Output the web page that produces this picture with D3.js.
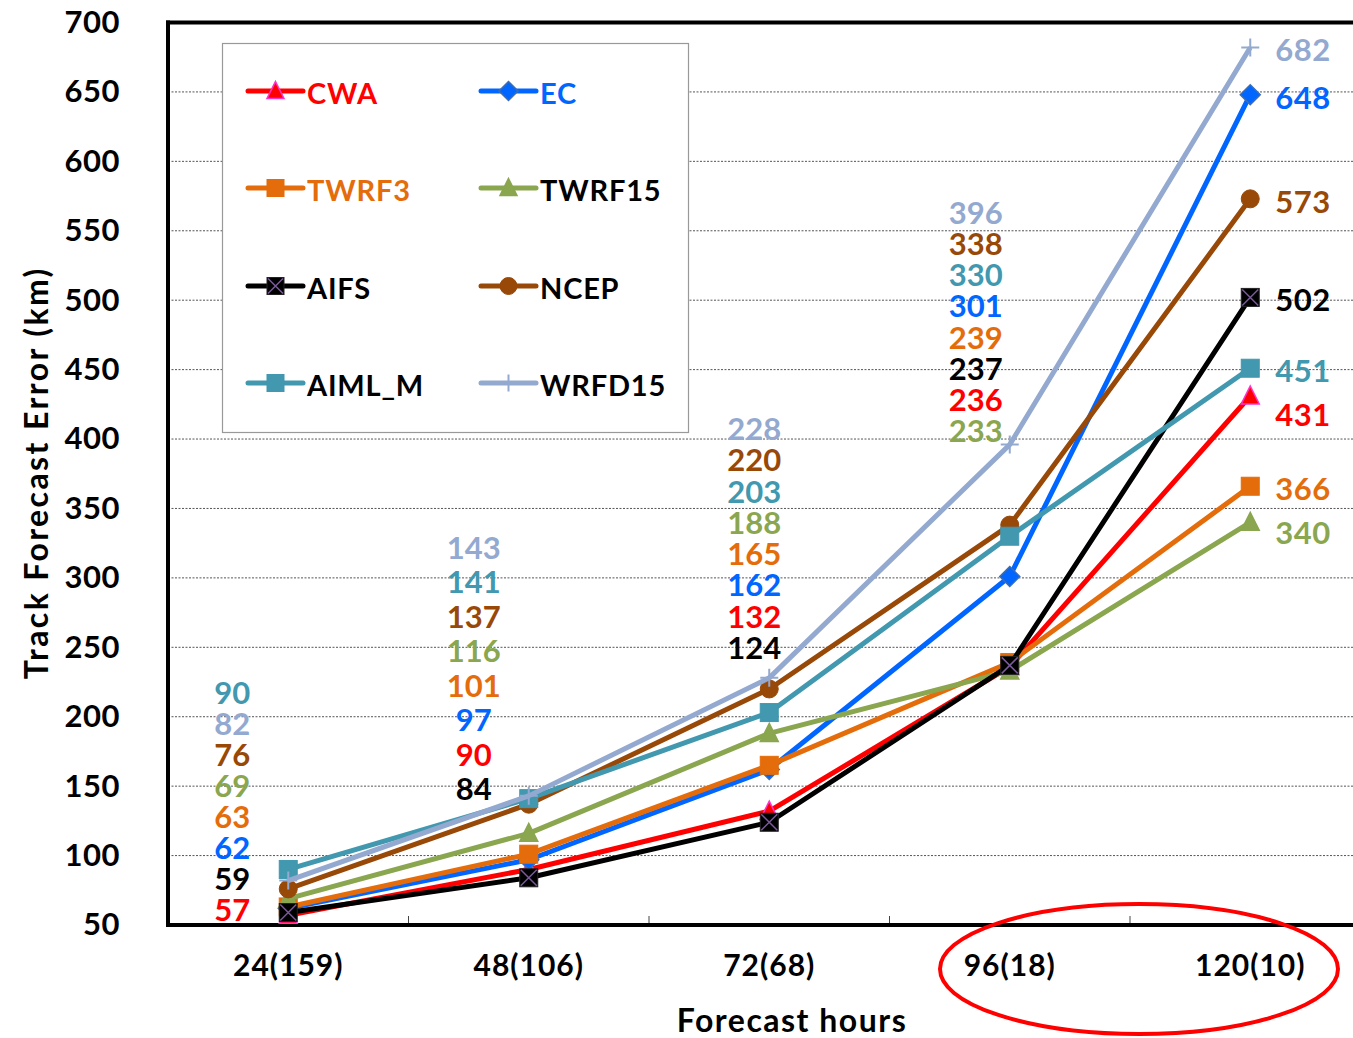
<!DOCTYPE html>
<html>
<head>
<meta charset="utf-8">
<script src="https://cdn.jsdelivr.net/npm/d3@7/dist/d3.min.js"></script>
<style>
  html, body { margin: 0; padding: 0; background: #fff; }
  svg { display: block; }
  text { font-family: Lato, "Open Sans", sans-serif; font-weight: bold; }
</style>
</head>
<body>
<svg id="chart" width="1353" height="1038"></svg>
<script>
// ---- data ----
const categories = ["24(159)", "48(106)", "72(68)", "96(18)", "120(10)"];
const seriesNames = ["CWA", "EC", "TWRF3", "TWRF15", "AIFS", "NCEP", "AIML_M", "WRFD15"];
const CWA    = [57, 90, 132, 236, 431];
const EC     = [62, 97, 162, 301, 648];
const TWRF3  = [63, 101, 165, 239, 366];
const TWRF15 = [69, 116, 188, 233, 340];
const AIFS   = [59, 84, 124, 237, 502];
const NCEP   = [76, 137, 220, 338, 573];
const AIML_M = [90, 141, 203, 330, 451];
const WRFD15 = [82, 143, 228, 396, 682];
const yTicks = [50, 100, 150, 200, 250, 300, 350, 400, 450, 500, 550, 600, 650, 700];

const seriesValues = [CWA, EC, TWRF3, TWRF15, AIFS, NCEP, AIML_M, WRFD15];
const styles = {
  CWA:    {color: "#FF0000", label: "#FF0000", legendText: "#FF0000", marker: "triangle", fill: "#FF0000", stroke: "#FF33CC"},
  EC:     {color: "#0066FF", label: "#0066FF", legendText: "#0066FF", marker: "diamond", fill: "#0066FF", stroke: "#3D6DB0"},
  TWRF3:  {color: "#E46C0A", label: "#E46C0A", legendText: "#E46C0A", marker: "square", fill: "#E46C0A", stroke: "#E46C0A"},
  TWRF15: {color: "#8AA64F", label: "#8AA64F", legendText: "#000000", marker: "triangle", fill: "#8AA64F", stroke: "#8AA64F"},
  AIFS:   {color: "#000000", label: "#000000", legendText: "#000000", marker: "xsquare", fill: "#000000", stroke: "#7A5A9A"},
  NCEP:   {color: "#984807", label: "#984807", legendText: "#000000", marker: "circle", fill: "#984807", stroke: "#984807"},
  AIML_M: {color: "#4198AF", label: "#4198AF", legendText: "#000000", marker: "square", fill: "#4198AF", stroke: "#4198AF"},
  WRFD15: {color: "#93A9D0", label: "#93A9D0", legendText: "#000000", marker: "plus", fill: "none", stroke: "#93A9D0"}
};

// ---- layout ----
const W = 1353, H = 1038;
const plot = {left: 168, top: 22.5, bottom: 925, right: 1370.5};
const svg = d3.select("#chart");

const x = d3.scaleBand().domain(categories).range([plot.left, plot.right]).paddingInner(0).paddingOuter(0);
const y = d3.scaleLinear().domain([50, 700]).range([plot.bottom, plot.top]);
const cx = c => x(c) + x.bandwidth() / 2;

// gridlines
svg.append("g").selectAll("line")
  .data(yTicks.filter(v => v > 50 && v < 700))
  .join("line")
  .attr("x1", plot.left).attr("x2", W)
  .attr("y1", d => y(d)).attr("y2", d => y(d))
  .attr("stroke", "#555").attr("stroke-width", 1).attr("stroke-dasharray", "2,1.5");

// y axis labels
const yAxis = d3.axisLeft(y).tickValues(yTicks).tickSize(0).tickPadding(48).tickFormat(d3.format("d"));
const gy = svg.append("g").attr("transform", `translate(${plot.left},0)`).call(yAxis);
gy.select(".domain").remove();
gy.selectAll("text").style("font-size", "31px").attr("fill", "#000")
  .style("font-family", "Lato, sans-serif").style("font-weight", "bold").style("letter-spacing", "0.5px");

// x axis labels
const xAxis = d3.axisBottom(x).tickSize(0).tickPadding(30);
const gx = svg.append("g").attr("transform", `translate(0,${plot.bottom})`).call(xAxis);
gx.select(".domain").remove();
gx.selectAll("text").style("font-size", "30px").attr("fill", "#000")
  .style("font-family", "Lato, sans-serif").style("font-weight", "bold").style("letter-spacing", "1px");

// x inner ticks at band boundaries
svg.append("g").selectAll("line")
  .data(categories.slice(1))
  .join("line")
  .attr("x1", d => x(d)).attr("x2", d => x(d))
  .attr("y1", plot.bottom).attr("y2", plot.bottom - 9)
  .attr("stroke", "#444").attr("stroke-width", 1);

// frame
svg.append("line").attr("x1", plot.left).attr("x2", plot.left).attr("y1", plot.top - 2).attr("y2", plot.bottom + 2)
  .attr("stroke", "#000").attr("stroke-width", 4);
svg.append("line").attr("x1", plot.left - 2).attr("x2", W).attr("y1", plot.top).attr("y2", plot.top)
  .attr("stroke", "#000").attr("stroke-width", 4);
svg.append("line").attr("x1", plot.left - 2).attr("x2", W).attr("y1", plot.bottom).attr("y2", plot.bottom)
  .attr("stroke", "#000").attr("stroke-width", 4);

// axis titles
svg.append("text").attr("transform", `translate(35,${(plot.top + plot.bottom) / 2 - 1}) rotate(-90)`)
  .attr("text-anchor", "middle").attr("dominant-baseline", "central")
  .style("font-size", "32px").style("letter-spacing", "2.4px").text("Track Forecast Error (km)");
svg.append("text").attr("x", 792).attr("y", 1019)
  .attr("text-anchor", "middle").attr("dominant-baseline", "central")
  .style("font-size", "32px").style("letter-spacing", "1.5px").text("Forecast hours");

// marker drawing
function drawMarker(g, type, st, px, py, s) {
  const h = s / 2;
  if (type === "square") {
    g.append("rect").attr("x", px - h).attr("y", py - h).attr("width", s).attr("height", s)
      .attr("fill", st.fill).attr("stroke", st.stroke).attr("stroke-width", 1);
  } else if (type === "xsquare") {
    g.append("rect").attr("x", px - h).attr("y", py - h).attr("width", s).attr("height", s)
      .attr("fill", st.fill).attr("stroke", "#222").attr("stroke-width", 1);
    g.append("path").attr("d", `M${px - h + 1},${py - h + 1}L${px + h - 1},${py + h - 1}M${px + h - 1},${py - h + 1}L${px - h + 1},${py + h - 1}`)
      .attr("stroke", st.stroke).attr("stroke-width", 1.5);
  } else if (type === "triangle") {
    g.append("path").attr("d", `M${px},${py - h - 1}L${px + h},${py + h - 1}L${px - h},${py + h - 1}Z`)
      .attr("fill", st.fill).attr("stroke", st.stroke).attr("stroke-width", 1.5);
  } else if (type === "diamond") {
    g.append("path").attr("d", `M${px},${py - h - 1}L${px + h + 1},${py}L${px},${py + h + 1}L${px - h - 1},${py}Z`)
      .attr("fill", st.fill).attr("stroke", st.stroke).attr("stroke-width", 1.5);
  } else if (type === "circle") {
    g.append("circle").attr("cx", px).attr("cy", py).attr("r", h)
      .attr("fill", st.fill).attr("stroke", st.stroke);
  } else if (type === "plus") {
    g.append("path").attr("d", `M${px - h},${py}L${px + h},${py}M${px},${py - h}L${px},${py + h}`)
      .attr("stroke", st.stroke).attr("stroke-width", 2);
  }
}

// legend
const legend = svg.append("g");
legend.append("rect").attr("x", 222.5).attr("y", 43.5).attr("width", 466).attr("height", 389)
  .attr("fill", "#fff").attr("stroke", "#999").attr("stroke-width", 1.2);
const legendCols = [248, 481];
const legendRows = [91, 188, 286, 383];
seriesNames.forEach((name, i) => {
  const st = styles[name];
  const lx = legendCols[i % 2], ly = legendRows[Math.floor(i / 2)];
  const g = legend.append("g");
  g.append("line").attr("x1", lx).attr("x2", lx + 55).attr("y1", ly).attr("y2", ly)
    .attr("stroke", st.color).attr("stroke-width", 5).attr("stroke-linecap", "round");
  drawMarker(g, st.marker, st, lx + 27.5, ly, 17);
  g.append("text").attr("x", lx + 59).attr("y", ly + 1).attr("dominant-baseline", "central")
    .attr("fill", st.legendText).style("font-size", "29px").style("letter-spacing", "0.8px").text(name);
});

// series lines + markers
const line = d3.line().x((d, i) => cx(categories[i])).y(d => y(d));
seriesNames.forEach((name, si) => {
  const st = styles[name];
  const vals = seriesValues[si];
  const g = svg.append("g");
  g.append("path").datum(vals).attr("d", line).attr("fill", "none")
    .attr("stroke", st.color).attr("stroke-width", 5).attr("stroke-linejoin", "round");
  vals.forEach((v, i) => drawMarker(g, st.marker, st, cx(categories[i]), y(v), 18));
});

// value labels: stacked columns for the first four categories
const stackDx = [-56, -55, -15, -34];
const stackTop = [692, 547, 428, 212];
const stackBottom = [909, 788, 647, 430];
for (let ci = 0; ci < 4; ci++) {
  const order = seriesNames.map((n, si) => ({n, v: seriesValues[si][ci]}))
    .sort((a, b) => b.v - a.v);
  const gap = (stackBottom[ci] - stackTop[ci]) / (order.length - 1);
  order.forEach((o, k) => {
    svg.append("text").attr("x", cx(categories[ci]) + stackDx[ci]).attr("y", stackTop[ci] + k * gap)
      .attr("text-anchor", "middle").attr("dominant-baseline", "central")
      .attr("fill", styles[o.n].label).style("font-size", "31px").text(o.v);
  });
}
// last category: labels beside points, pushed apart when too close
{
  const ci = 4;
  const order = seriesNames.map((n, si) => ({n, v: seriesValues[si][ci]}))
    .sort((a, b) => b.v - a.v);
  let prev = -Infinity;
  order.forEach(o => {
    let py = Math.max(y(o.v) + 2, prev + 44);
    prev = py;
    svg.append("text").attr("x", cx(categories[ci]) + 25).attr("y", py)
      .attr("dominant-baseline", "central")
      .attr("fill", styles[o.n].label).style("font-size", "31px").style("letter-spacing", "0.5px").text(o.v);
  });
}

// highlight ellipse
svg.append("ellipse").attr("cx", 1139).attr("cy", 969).attr("rx", 199).attr("ry", 65)
  .attr("fill", "none").attr("stroke", "#FF0000").attr("stroke-width", 4);
</script>
</body>
</html>
